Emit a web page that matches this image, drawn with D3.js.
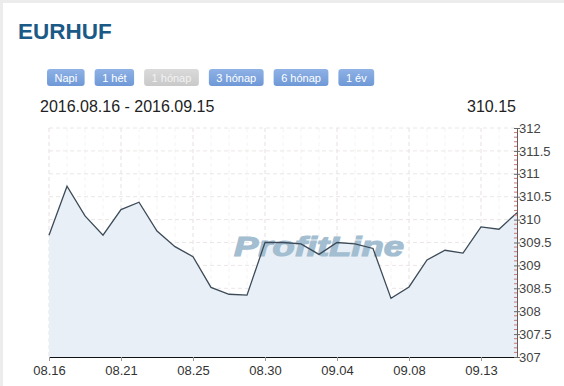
<!DOCTYPE html>
<html>
<head>
<meta charset="utf-8">
<script src="https://cdn.jsdelivr.net/npm/d3@7"></script>
<style>
  html, body { margin: 0; padding: 0; background: #fff; overflow: hidden; }
  svg { display: block; font-family: "Liberation Sans", Arial, sans-serif; }
</style>
</head>
<body>
<script>
// EURHUF daily rates, 2016.08.16 - 2016.09.15
const dates = ["08.16", "08.17", "08.18", "08.19", "08.21", "08.22", "08.23", "08.24", "08.25",
  "08.26", "08.27", "08.29", "08.30", "08.31", "09.01", "09.02", "09.04", "09.05", "09.06",
  "09.07", "09.08", "09.09", "09.11", "09.12", "09.13", "09.14", "09.15"];
const rates = [309.66, 310.73, 310.08, 309.66, 310.22, 310.38, 309.75, 309.41, 309.19,
  308.52, 308.37, 308.35, 309.50, 309.50, 309.47, 309.24, 309.50, 309.47, 309.37,
  308.28, 308.53, 309.12, 309.33, 309.27, 309.84, 309.79, 310.15];
const xLabels = ["08.16", "08.21", "08.25", "08.30", "09.04", "09.08", "09.13"];
const yTicks = [307, 307.5, 308, 308.5, 309, 309.5, 310, 310.5, 311, 311.5, 312];
const buttons = ["Napi", "1 hét", "1 hónap", "3 hónap", "6 hónap", "1 év"];
const activeButton = "1 hónap";
const title = "EURHUF";
const rangeText = "2016.08.16 - 2016.09.15";

const width = 564, height = 386;
const plotLeft = 49, plotRight = 517, plotTop = 128, plotBottom = 357;

const svg = d3.select("body").append("svg")
    .attr("width", width)
    .attr("height", height);

// frame edges
svg.append("rect").attr("x", 0).attr("y", 0).attr("width", width).attr("height", 3).attr("fill", "#ececec");
svg.append("rect").attr("x", 0).attr("y", 0).attr("width", 3).attr("height", height).attr("fill", "#ececec");

svg.append("text")
    .attr("x", 18).attr("y", 39)
    .attr("font-size", 22.5).attr("font-weight", "bold")
    .attr("fill", "#1b5a86")
    .text(title);

// buttons
const defs = svg.append("defs");
const gBlue = defs.append("linearGradient").attr("id", "btnBlue").attr("x1", 0).attr("y1", 0).attr("x2", 0).attr("y2", 1);
gBlue.append("stop").attr("offset", "0%").attr("stop-color", "#8fb2e6");
gBlue.append("stop").attr("offset", "100%").attr("stop-color", "#6e98d6");
const gGrey = defs.append("linearGradient").attr("id", "btnGrey").attr("x1", 0).attr("y1", 0).attr("x2", 0).attr("y2", 1);
gGrey.append("stop").attr("offset", "0%").attr("stop-color", "#dadada");
gGrey.append("stop").attr("offset", "100%").attr("stop-color", "#c9c9c9");

let bx = 47;
buttons.forEach(function (b) {
    const g = svg.append("g");
    const r = g.append("rect").attr("y", 69).attr("height", 17).attr("rx", 3)
        .attr("fill", b === activeButton ? "url(#btnGrey)" : "url(#btnBlue)");
    const t = g.append("text").attr("y", 81.5).attr("font-size", 11)
        .attr("text-anchor", "middle")
        .attr("fill", b === activeButton ? "#f2f2f2" : "#fff")
        .text(b);
    const w = t.node().getComputedTextLength() + 15;
    r.attr("x", bx).attr("width", w);
    t.attr("x", bx + w / 2);
    bx += w + 10;
});

svg.append("text")
    .attr("x", 40).attr("y", 112)
    .attr("font-size", 16).attr("fill", "#222")
    .text(rangeText);

svg.append("text")
    .attr("x", 516).attr("y", 112)
    .attr("font-size", 16).attr("fill", "#222")
    .attr("text-anchor", "end")
    .text(rates[rates.length - 1].toFixed(2));

const x = d3.scalePoint().domain(dates).range([plotLeft, plotRight]);
const y = d3.scaleLinear().domain([307, 312]).range([plotBottom, plotTop]);

// grid
const grid = svg.append("g");
grid.selectAll("line.minor-v")
    .data(dates)
    .enter().append("line")
    .attr("x1", d => x(d)).attr("x2", d => x(d))
    .attr("y1", plotTop).attr("y2", plotBottom)
    .attr("stroke", "#f6f3f3").attr("stroke-dasharray", "4,3");
grid.selectAll("line.major-v")
    .data(xLabels)
    .enter().append("line")
    .attr("x1", d => x(d)).attr("x2", d => x(d))
    .attr("y1", plotTop).attr("y2", plotBottom)
    .attr("stroke", "#ece6e6").attr("stroke-dasharray", "4,3");
grid.selectAll("line.h")
    .data(yTicks.slice(1))
    .enter().append("line")
    .attr("x1", plotLeft).attr("x2", plotRight)
    .attr("y1", d => y(d)).attr("y2", d => y(d))
    .attr("stroke", "#ece6e6").attr("stroke-dasharray", "4,3");

// area + watermark + line
const area = d3.area().x((d, i) => x(dates[i])).y0(plotBottom).y1(d => y(d));
svg.append("path").datum(rates).attr("d", area).attr("fill", "#e8eff6");

svg.append("text")
    .attr("x", 234).attr("y", 256)
    .attr("font-size", 28).attr("font-weight", "bold").attr("font-style", "italic")
    .attr("textLength", 170).attr("lengthAdjust", "spacingAndGlyphs")
    .attr("fill", "#a4bed1").attr("stroke", "#a4bed1").attr("stroke-width", 1.2)
    .text("ProfitLine");

const line = d3.line().x((d, i) => x(dates[i])).y(d => y(d));
svg.append("path").datum(rates).attr("d", line)
    .attr("fill", "none").attr("stroke", "#3c4a58").attr("stroke-width", 1.3);

// x axis
const xAxis = d3.axisBottom(x).tickValues(xLabels).tickSize(4).tickSizeOuter(0);
const gx = svg.append("g").attr("transform", "translate(0," + plotBottom + ")").call(xAxis);
gx.select(".domain").attr("stroke", "#111");
gx.selectAll(".tick line").attr("stroke", "#999");
gx.selectAll(".tick text").attr("font-size", 13).attr("fill", "#333")
    .attr("font-family", "Liberation Sans, Arial, sans-serif").attr("dy", "0.85em");

// y axis with minor ticks
const minor = d3.range(307, 312.001, 0.1).filter(v => Math.abs(v * 2 - Math.round(v * 2)) > 0.01);
svg.append("g").selectAll("line")
    .data(minor)
    .enter().append("line")
    .attr("x1", plotRight - 3).attr("x2", plotRight)
    .attr("y1", d => y(d)).attr("y2", d => y(d))
    .attr("stroke", "#c67a7a");
const yAxis = d3.axisRight(y).tickValues(yTicks).tickSize(3).tickSizeOuter(0).tickFormat(d3.format("~g"));
const gy = svg.append("g").attr("transform", "translate(" + plotRight + ",0)").call(yAxis);
gy.select(".domain").attr("stroke", "#6a5a5a");
gy.selectAll(".tick line").attr("stroke", "#666").attr("x1", -3);
gy.selectAll(".tick text").attr("font-size", 13).attr("fill", "#444")
    .attr("font-family", "Liberation Sans, Arial, sans-serif").attr("x", 2);
</script>
</body>
</html>
